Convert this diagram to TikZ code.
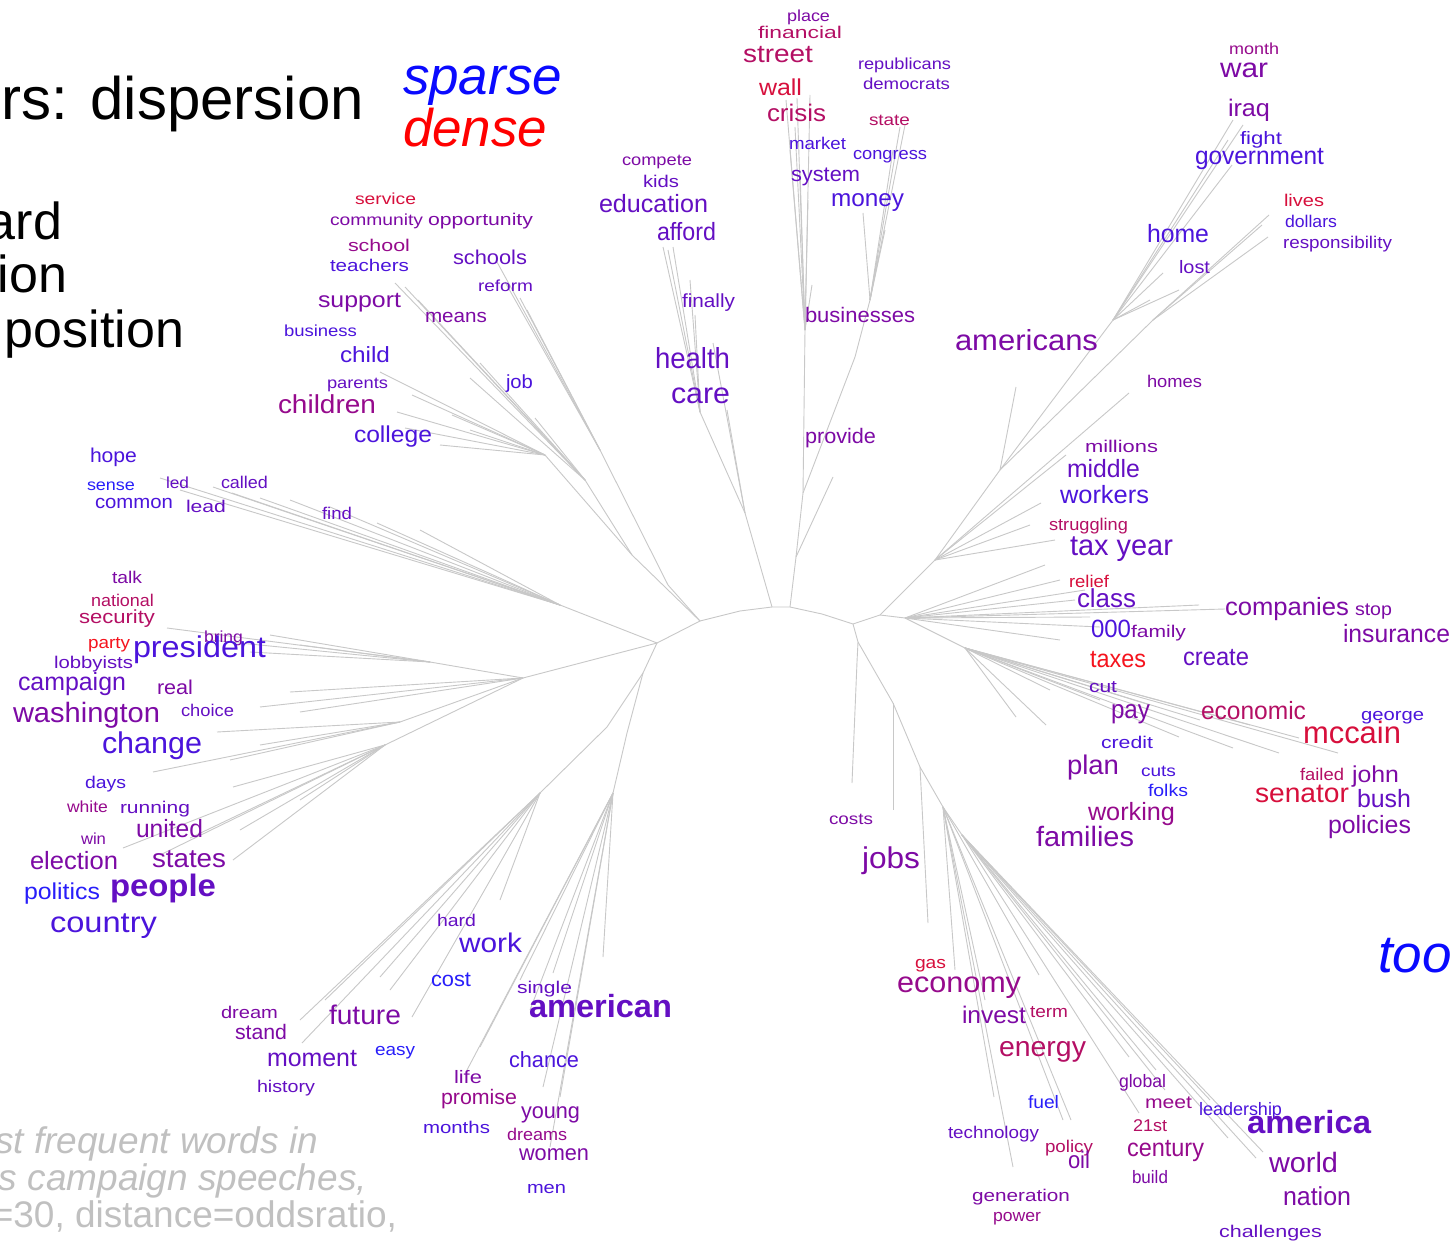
\documentclass[tikz,border=0pt]{standalone}
\usepackage{fontspec}
\usepackage{graphicx}
\setmainfont{Liberation Sans}

% word colours, from blue (rare in the dense speeches) to red
\definecolor{q0}{RGB}{40,30,250}
\definecolor{q1}{RGB}{75,20,220}
\definecolor{q2}{RGB}{100,15,195}
\definecolor{q3}{RGB}{125,10,165}
\definecolor{q4}{RGB}{150,10,140}
\definecolor{q5}{RGB}{180,15,100}
\definecolor{q6}{RGB}{215,15,60}
\definecolor{q7}{RGB}{245,20,30}
\definecolor{brgray}{RGB}{200,200,200}
\definecolor{notegray}{RGB}{192,192,192}
\definecolor{keyblue}{RGB}{10,10,255}
\definecolor{keyred}{RGB}{255,0,0}

\tikzset{
  branch/.style={draw=brgray, line width=0.9pt},
  word/.style={anchor=base west, inner sep=0pt, outer sep=0pt},
  headline/.style={inner sep=0pt, outer sep=0pt, font=\fontsize{60pt}{60pt}\selectfont},
  sideline/.style={inner sep=0pt, outer sep=0pt, font=\fontsize{52pt}{52pt}\selectfont},
  keyword/.style={anchor=base west, inner sep=0pt, outer sep=0pt, font=\fontsize{53pt}{53pt}\selectfont\itshape},
  notetext/.style={anchor=base east, inner sep=0pt, outer sep=0pt, text=notegray, font=\fontsize{37pt}{37pt}\selectfont},
}

% word: name, x, baseline y, width, colour, size, text
\newcommand\wrd[7]{\node[word,text=#5] (#1) at (#2,#3) {\resizebox{#4pt}{\height}{\fontsize{#6pt}{#6pt}\selectfont #7}};}
% fan of branch ends: prefix, junction, list of x/y
\newcommand\fan[3]{\foreach \x/\y [count=\k] in {#3} {\coordinate (#1-\k) at (\x,\y); \draw[branch] (#2) -- (#1-\k);}}

\begin{document}
\begin{tikzpicture}[x=1pt,y=-1pt]
\fill[white] (0,0) rectangle (1456,1241);
\useasboundingbox (0,0) rectangle (1456,1241);

% ---------- hub of the tree ----------
\coordinate (h1) at (657,643);
\coordinate (h2) at (700,621);
\coordinate (h3) at (740,611);
\coordinate (h4) at (772,607);
\coordinate (h5) at (790,607);
\coordinate (h6) at (822,614);
\coordinate (h7) at (853,624);
\coordinate (h8) at (880,615);
\draw[branch] (h1) -- (h2) -- (h3) -- (h4) -- (h5) -- (h6) -- (h7) -- (h8);

% ---------- upper left: schools, children ----------
\coordinate (ja) at (632,555);
\coordinate (ja1) at (545,455);
\coordinate (ja2) at (585,480);
\draw[branch] (h2) -- (ja) -- (ja1);
\draw[branch] (ja) -- (ja2);
\fan{la}{ja1}{380/372,397/412,412/395,452/415,405/428,440/445,470/430}
\fan{lb}{ja2}{395/283,405/287,418/300,480/363,535/418,470/378}
\coordinate (jb) at (668,585);
\coordinate (jb1) at (600,450);
\draw[branch] (h2) -- (jb) -- (jb1);
\fan{lc}{jb1}{497/262,505/282,520/298,527/310}

% ---------- health care, education ----------
\coordinate (jc) at (745,513);
\coordinate (jc1) at (700,412);
\draw[branch] (h4) -- (jc) -- (jc1);
\fan{ld}{jc}{727/410,713/343}
\fan{le}{jc1}{690/280,673/247,663/247,668/250,695/315}

% ---------- wall street, money ----------
\coordinate (jf) at (796,557);
\coordinate (jd) at (803,493);
\coordinate (jd1) at (805,330);
\draw[branch] (h5) -- (jf) -- (jd) -- (jd1);
\fan{lf}{jd1}{786/100,797/98,810/95,795/127,790/150,800/170,808/200,812/285}
\fan{lg}{jf}{833/477}
\coordinate (je) at (855,357);
\coordinate (jg) at (870,300);
\draw[branch] (jd) -- (je) -- (jg);
\fan{lh}{jg}{863/213,900/127,893/150,885/230,905/125,878/255}

% ---------- americans, iraq, home ----------
\coordinate (jh) at (935,560);
\coordinate (jh1) at (1000,470);
\coordinate (jh2) at (1113,320);
\coordinate (jh3) at (1153,320);
\draw[branch] (h8) -- (jh) -- (jh1) -- (jh2);
\draw[branch] (jh1) -- (jh3);
\fan{li}{jh2}{1233/120,1243/125,1228/140,1232/165,1163/273,1179/290,1150/300}
\fan{lj}{jh3}{1269/215,1268/237,1262/225}
\fan{lk}{jh1}{1016/387}
\fan{ll}{jh}{1129/393,1066/455,1041/503,1030/525,1055/540}

% ---------- class, taxes, mccain ----------
\coordinate (ji) at (905,618);
\coordinate (jj) at (965,648);
\draw[branch] (h8) -- (ji) -- (jj);
\fan{lm}{ji}{1045/565,1060/580,1085/590,1199/605,1225/609,1090/617,1100/627,1075/600,1060/640}
\fan{ln}{jj}{1016/717,1046/725,1179/737,1233/748,1299/738,1279/753,1338/753,1250/725,1200/720,1100/700,1050/690,1150/705}

% ---------- jobs, economy, america ----------
\coordinate (jk) at (858,642);
\coordinate (jk1) at (857,662);
\coordinate (jl) at (893,703);
\coordinate (jm) at (920,767);
\coordinate (jn) at (943,807);
\coordinate (jo) at (962,835);
\draw[branch] (h7) -- (jk) -- (jk1);
\draw[branch] (jk) -- (jl) -- (jm) -- (jn) -- (jo);
\fan{lo}{jk1}{852/783}
\fan{lp}{jl}{893/810}
\fan{lq}{jm}{928/923}
\fan{lr}{jn}{955/970,994/1097,1013/1167,1039/975,1063/1120,1071/1120,985/1000}
\fan{ls}{jo}{1129/1057,1139/1113,1156/1070,1228/1138,1256/1158,1263/1152,1210/1100,1165/1090}

% ---------- left: common sense, president, change ----------
\coordinate (jp) at (560,605);
\draw[branch] (h1) -- (jp);
\fan{lt}{jp}{160/478,180/490,213/487,232/493,260/498,290/500,330/507,377/523,420/530}
\coordinate (jq) at (523,678);
\coordinate (jq1) at (430,662);
\coordinate (jq2) at (400,722);
\coordinate (jq3) at (385,745);
\draw[branch] (h1) -- (jq) -- (jq1);
\draw[branch] (jq) -- (jq2);
\draw[branch] (jq) -- (jq3);
\fan{lu}{jq1}{167/628,270/635,210/640,300/645,250/652}
\fan{lv}{jq}{290/692,260/707,300/712}
\fan{lw}{jq2}{217/732,153/772,230/760,260/745}
\fan{lx}{jq3}{233/787,123/848,233/860,190/838,160/855,300/800,240/830}

% ---------- lower left: future, american ----------
\coordinate (jr) at (643,673);
\coordinate (jr1) at (607,727);
\coordinate (jr2) at (540,793);
\coordinate (js) at (627,733);
\coordinate (js1) at (613,793);
\draw[branch] (h1) -- (jr) -- (jr1) -- (jr2);
\draw[branch] (jr) -- (js) -- (js1);
\fan{ly}{jr2}{300/1020,302/1043,325/1000,380/977,412/1017,500/900,390/990}
\fan{lz}{js1}{603/957,550/1147,560/1097,543/1087,553/973,467/1070,480/1047,520/980,530/1010}

% ---------- headings ----------
\node[headline, anchor=base east] (title) at (364,120) {rs: dispersion};
\node[sideline, anchor=base east] (lineard) at (62,240) {ard};
\node[sideline, anchor=base east] (lineion) at (67,293) {ion};
\node[sideline, anchor=base west] (lineposition) at (5,347) {position};
\node[keyword, text=keyblue] (sparse) at (403,95) {sparse};
\node[keyword, text=keyred] (dense) at (403,147) {dense};
\node[keyword, text=keyblue] (too) at (1378,972) {too};
\node[notetext, font=\fontsize{37pt}{37pt}\selectfont\itshape] (note1) at (318,1153) {st frequent words in};
\node[notetext, font=\fontsize{37pt}{37pt}\selectfont\itshape] (note2) at (367,1190) {s campaign speeches,};
\node[notetext] (note3) at (397,1227) {=30, distance=oddsratio,};

% ---------- words: upper left ----------
\wrd{service}{355}{205}{61}{q6}{16}{service}
\wrd{community}{330}{226}{93}{q3}{16}{community}
\wrd{opportunity}{428}{226}{105}{q3}{17}{opportunity}
\wrd{school}{348}{252}{62}{q4}{17}{school}
\wrd{teachers}{330}{272}{79}{q1}{17}{teachers}
\wrd{schools}{453}{265}{74}{q2}{20}{schools}
\wrd{reform}{478}{292}{55}{q2}{16}{reform}
\wrd{support}{318}{307}{83}{q3}{22}{support}
\wrd{means}{425}{322}{62}{q3}{19}{means}
\wrd{business}{284}{336}{73}{q1}{16}{business}
\wrd{child}{340}{362}{50}{q1}{22}{child}
\wrd{parents}{327}{388}{61}{q2}{16}{parents}
\wrd{job}{506}{388}{27}{q1}{19}{job}
\wrd{children}{278}{413}{98}{q4}{26}{children}
\wrd{college}{354}{442}{78}{q1}{23}{college}

% ---------- words: top centre ----------
\wrd{place}{787}{22}{43}{q3}{16}{place}
\wrd{financial}{758}{39}{84}{q5}{17}{financial}
\wrd{street}{743}{63}{70}{q5}{25}{street}
\wrd{republicans}{858}{70}{93}{q2}{16}{republicans}
\wrd{democrats}{863}{90}{87}{q2}{16}{democrats}
\wrd{wall}{759}{96}{43}{q6}{23}{wall}
\wrd{crisis}{767}{122}{59}{q5}{24}{crisis}
\wrd{state}{869}{126}{41}{q5}{16}{state}
\wrd{market}{789}{150}{57}{q1}{17}{market}
\wrd{congress}{853}{160}{74}{q1}{17}{congress}
\wrd{system}{791}{182}{69}{q2}{21}{system}
\wrd{money}{831}{207}{73}{q1}{24}{money}
\wrd{compete}{622}{166}{70}{q3}{16}{compete}
\wrd{kids}{643}{188}{36}{q2}{17}{kids}
\wrd{education}{599}{213}{109}{q2}{25}{education}
\wrd{afford}{657}{241}{59}{q2}{25}{afford}
\wrd{finally}{682}{307}{53}{q2}{19}{finally}
\wrd{businesses}{805}{323}{110}{q3}{21}{businesses}
\wrd{health}{655}{368}{75}{q2}{29}{health}
\wrd{care}{671}{403}{59}{q2}{29}{care}
\wrd{provide}{805}{443}{71}{q3}{21}{provide}

% ---------- words: top right ----------
\wrd{month}{1229}{55}{50}{q4}{16}{month}
\wrd{war}{1220}{78}{48}{q3}{27}{war}
\wrd{iraq}{1228}{117}{42}{q3}{24}{iraq}
\wrd{fight}{1240}{145}{42}{q1}{18}{fight}
\wrd{government}{1195}{165}{129}{q1}{25}{government}
\wrd{lives}{1284}{207}{40}{q6}{17}{lives}
\wrd{dollars}{1285}{228}{52}{q1}{17}{dollars}
\wrd{responsibility}{1283}{249}{109}{q2}{17}{responsibility}
\wrd{home}{1147}{243}{62}{q1}{25}{home}
\wrd{lost}{1179}{273}{31}{q2}{18}{lost}
\wrd{americans}{955}{350}{143}{q3}{29}{americans}
\wrd{homes}{1147}{387}{55}{q3}{17}{homes}

% ---------- words: right ----------
\wrd{millions}{1085}{452}{73}{q3}{17}{millions}
\wrd{middle}{1067}{477}{73}{q2}{25}{middle}
\wrd{workers}{1060}{503}{89}{q1}{25}{workers}
\wrd{struggling}{1049}{530}{79}{q5}{17}{struggling}
\wrd{taxyear}{1070}{555}{103}{q2}{29}{tax year}
\wrd{relief}{1069}{587}{40}{q6}{17}{relief}
\wrd{class}{1077}{607}{59}{q2}{26}{class}
\wrd{companies}{1225}{615}{124}{q3}{25}{companies}
\wrd{stop}{1355}{615}{37}{q3}{18}{stop}
\wrd{n000}{1091}{637}{40}{q1}{25}{000}
\wrd{family}{1131}{637}{55}{q3}{17}{family}
\wrd{insurance}{1343}{642}{107}{q3}{25}{insurance}
\wrd{taxes}{1090}{667}{56}{q7}{25}{taxes}
\wrd{create}{1183}{665}{66}{q2}{25}{create}
\wrd{cut}{1089}{692}{28}{q2}{17}{cut}
\wrd{pay}{1111}{718}{39}{q3}{26}{pay}
\wrd{economic}{1201}{719}{105}{q5}{25}{economic}
\wrd{george}{1361}{720}{63}{q1}{17}{george}
\wrd{mccain}{1303}{743}{98}{q6}{31}{mccain}
\wrd{credit}{1101}{748}{52}{q1}{17}{credit}
\wrd{plan}{1067}{774}{52}{q3}{27}{plan}
\wrd{cuts}{1141}{776}{35}{q1}{16}{cuts}
\wrd{folks}{1148}{796}{40}{q0}{17}{folks}
\wrd{failed}{1300}{780}{44}{q5}{17}{failed}
\wrd{john}{1352}{782}{47}{q3}{23}{john}
\wrd{senator}{1255}{802}{94}{q6}{27}{senator}
\wrd{bush}{1357}{807}{54}{q2}{25}{bush}
\wrd{working}{1088}{820}{87}{q4}{25}{working}
\wrd{policies}{1328}{833}{83}{q3}{25}{policies}
\wrd{families}{1036}{846}{98}{q3}{28}{families}

% ---------- words: left ----------
\wrd{hope}{90}{462}{47}{q1}{20}{hope}
\wrd{sense}{87}{490}{48}{q0}{16}{sense}
\wrd{led}{166}{488}{23}{q2}{16}{led}
\wrd{called}{221}{488}{47}{q2}{17}{called}
\wrd{common}{95}{508}{78}{q1}{19}{common}
\wrd{lead}{186}{512}{40}{q2}{17}{lead}
\wrd{find}{322}{519}{30}{q2}{17}{find}
\wrd{talk}{112}{583}{30}{q3}{17}{talk}
\wrd{national}{91}{606}{63}{q5}{17}{national}
\wrd{security}{79}{623}{76}{q5}{19}{security}
\wrd{bring}{204}{642}{39}{q3}{16}{bring}
\wrd{party}{88}{648}{42}{q7}{17}{party}
\wrd{president}{133}{657}{133}{q1}{30}{president}
\wrd{lobbyists}{54}{668}{79}{q2}{17}{lobbyists}
\wrd{campaign}{18}{690}{108}{q2}{25}{campaign}
\wrd{real}{157}{694}{36}{q3}{20}{real}
\wrd{washington}{13}{722}{147}{q3}{28}{washington}
\wrd{choice}{181}{716}{53}{q2}{17}{choice}
\wrd{change}{102}{753}{100}{q1}{30}{change}
\wrd{days}{85}{788}{41}{q1}{17}{days}
\wrd{white}{67}{812}{41}{q4}{16}{white}
\wrd{running}{120}{813}{70}{q2}{17}{running}
\wrd{united}{136}{837}{67}{q3}{25}{united}
\wrd{win}{81}{844}{25}{q3}{16}{win}
\wrd{election}{30}{869}{88}{q3}{25}{election}
\wrd{states}{152}{867}{74}{q3}{26}{states}
\wrd{politics}{24}{899}{76}{q0}{23}{politics}
\wrd{people}{110}{896}{106}{q2}{31}{\bfseries people}
\wrd{country}{50}{932}{107}{q1}{29}{country}

% ---------- words: lower left ----------
\wrd{hard}{437}{926}{39}{q2}{17}{hard}
\wrd{work}{459}{952}{63}{q1}{27}{work}
\wrd{cost}{431}{986}{40}{q0}{21}{cost}
\wrd{dream}{221}{1018}{57}{q3}{17}{dream}
\wrd{future}{329}{1024}{72}{q3}{27}{future}
\wrd{stand}{235}{1039}{52}{q3}{21}{stand}
\wrd{moment}{267}{1066}{90}{q2}{25}{moment}
\wrd{easy}{375}{1055}{40}{q0}{17}{easy}
\wrd{history}{257}{1092}{58}{q2}{17}{history}
\wrd{life}{454}{1083}{28}{q3}{18}{life}
\wrd{promise}{441}{1104}{76}{q4}{21}{promise}
\wrd{months}{423}{1133}{67}{q1}{17}{months}
\wrd{single}{517}{993}{55}{q2}{17}{single}
\wrd{american}{529}{1017}{143}{q2}{32}{\bfseries american}
\wrd{chance}{509}{1067}{70}{q1}{22}{chance}
\wrd{young}{521}{1118}{59}{q3}{22}{young}
\wrd{dreams}{507}{1140}{60}{q4}{17}{dreams}
\wrd{women}{519}{1160}{70}{q3}{22}{women}
\wrd{men}{527}{1193}{39}{q1}{17}{men}

% ---------- words: lower right ----------
\wrd{costs}{829}{824}{44}{q3}{16}{costs}
\wrd{jobs}{862}{868}{58}{q3}{30}{jobs}
\wrd{gas}{915}{968}{31}{q6}{17}{gas}
\wrd{economy}{897}{992}{124}{q4}{29}{economy}
\wrd{invest}{962}{1023}{64}{q3}{24}{invest}
\wrd{term}{1030}{1017}{38}{q5}{17}{term}
\wrd{energy}{999}{1056}{87}{q5}{28}{energy}
\wrd{global}{1119}{1087}{47}{q3}{18}{global}
\wrd{fuel}{1028}{1108}{31}{q0}{18}{fuel}
\wrd{meet}{1145}{1108}{47}{q4}{18}{meet}
\wrd{leadership}{1199}{1115}{83}{q1}{18}{leadership}
\wrd{america}{1247}{1133}{124}{q2}{32}{\bfseries america}
\wrd{technology}{948}{1138}{91}{q2}{17}{technology}
\wrd{c21st}{1133}{1131}{34}{q5}{17}{21st}
\wrd{policy}{1045}{1152}{48}{q5}{17}{policy}
\wrd{oil}{1068}{1168}{22}{q3}{24}{oil}
\wrd{century}{1127}{1156}{77}{q4}{25}{century}
\wrd{world}{1269}{1172}{69}{q3}{28}{world}
\wrd{build}{1132}{1183}{36}{q3}{18}{build}
\wrd{generation}{972}{1201}{98}{q3}{17}{generation}
\wrd{nation}{1283}{1205}{68}{q3}{26}{nation}
\wrd{power}{993}{1221}{48}{q4}{17}{power}
\wrd{challenges}{1219}{1237}{103}{q2}{17}{challenges}
\end{tikzpicture}
\end{document}
